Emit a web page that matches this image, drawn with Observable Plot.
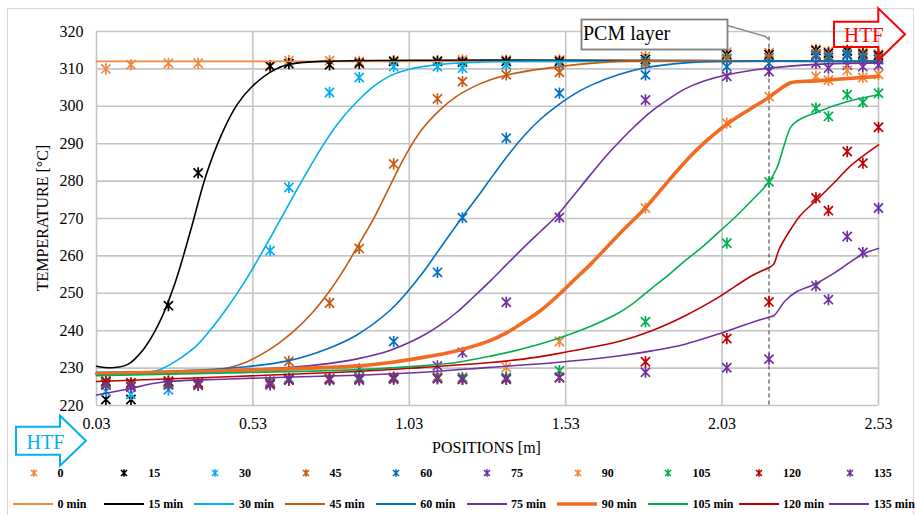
<!DOCTYPE html>
<html><head><meta charset="utf-8">
<script src="https://cdn.jsdelivr.net/npm/d3@7"></script>
<script src="https://cdn.jsdelivr.net/npm/@observablehq/plot@0.6"></script>
<style>
body{margin:0;background:#fff;font-family:"Liberation Serif","Times New Roman",serif;}
#wrap{position:relative;width:915px;height:515px;overflow:hidden;background:#fff;}
#frame{position:absolute;left:7px;top:8px;width:907px;height:520px;border:1px solid #d9d9d9;box-sizing:border-box;}
#chart{position:absolute;left:0;top:0;}
#overlay{position:absolute;left:0;top:0;}
.lg{position:absolute;font-weight:bold;font-size:12px;white-space:nowrap;line-height:14px;}
.lgs{position:absolute;}
</style></head>
<body><div id="wrap"><div id="frame"></div><div id="chart"></div><svg id="overlay" width="915" height="515"></svg><div id="legend"></div></div>
<script>
// ---------------- data ----------------
const seriesNames = ["0","15","30","45","60","75","90","105","120","135"];
const markerColors = ["#F0883E","#000000","#00B0F0","#C55A11","#0070C0","#7030A0","#F0883E","#00B050","#C00000","#7030A0"];
const lineColors   = ["#F0883E","#000000","#00B0F0","#C55A11","#0070C0","#7030A0","#F36B21","#00B050","#C00000","#7030A0"];
const lineWidths   = [1.8,1.6,1.6,1.6,1.6,1.6,3.6,1.6,1.6,1.6];
const xTicks = [0.03,0.53,1.03,1.53,2.03,2.53];
const yTicks = [220,230,240,250,260,270,280,290,300,310,320];
const pcmPosition = 2.18;

// measured positions [m]
const positions = [0.06,0.14,0.26,0.355,0.585,0.645,0.775,0.87,0.98,1.12,1.20,1.34,1.51,1.785,2.045,2.18,2.33,2.37,2.43,2.48,2.53];
// measured temperatures [°C]
const m0   = [310,311.1,311.5,311.5,310.6,312.2,312.2,312,312.2,312.2,312.4,312.4,312.4,313.3,314.5,314.3,315.3,314.6,315,314.5,314];
const m15  = [221.6,221.6,246.7,282.2,310.8,311.4,311.1,311.5,312,312,311.8,312,312,312.5,313.8,313.8,314.9,314.2,314.8,314,313.6];
const m30  = [223.8,223,224.2,225.5,261.4,278.3,303.7,307.7,310.6,310.6,310.2,311.1,311.1,312,312.8,313,313.5,313,313.5,313,312.5];
const m45  = [226,225.5,226,225.5,226,231.8,247.4,262,284.6,302,306.6,308.4,309.1,311.5,312.5,313,314,313.5,314,313.5,313];
const m60  = [226.5,226,226.5,226,226.5,227.3,227.3,229.8,237.1,255.6,270.2,291.5,303.5,308.4,310.6,311.5,313.5,313,313.8,313,312.5];
const m75  = [225.5,225,225.5,225.5,226,227,227,227.3,227.5,230.6,234.2,247.6,270.3,301.7,308,309.3,311.5,310.2,311,310.6,311];
const m90  = [226,225.5,225.5,225.3,226.2,227,227.3,227.5,227.5,227.8,227.2,230.2,237.1,272.8,295.5,302.6,308,307,309.6,307.7,308.5];
const m105 = [226,225.8,226,225.5,226,227,227,227.5,227.5,227.5,227.5,227.5,229.3,242.4,263.4,279.8,299.5,297.3,303.1,301.1,303.5];
const m120 = [226.5,226,226.5,226,225.8,226.8,227,227,227.3,227.2,227,227,227.5,231.7,237.9,247.7,275.5,272.1,287.9,284.8,294.4];
const m135 = [225.5,225,225.5,225.5,225.5,226.8,226.8,226.8,227,227.2,227,227.2,227.5,228.9,230.1,232.4,252,248.3,265.2,260.9,272.8];

// simulated profiles [position m, temperature °C]
const s0 = [[0.03,312],[2.53,312]];
const s15 = [[0.03,230.5],[0.08,230.1],[0.13,231],[0.18,235],[0.23,242],[0.28,252.5],[0.33,266.5],[0.38,281.5],[0.43,292.5],[0.48,300.5],[0.53,305.5],[0.60,309.8],[0.65,311.3],[0.75,312],[2.53,312]];
const s30 = [[0.03,228.2],[0.15,228.6],[0.23,229.5],[0.29,232.2],[0.35,236],[0.40,240.8],[0.45,246.4],[0.50,252.6],[0.55,259.6],[0.60,267],[0.65,274.6],[0.70,282],[0.75,289],[0.80,295.2],[0.86,301],[0.92,305.6],[0.97,308.2],[1.03,309.9],[1.13,311.2],[1.25,311.8],[1.4,312],[2.53,312]];
const s45 = [[0.03,228.3],[0.2,228.8],[0.43,229.7],[0.50,231.3],[0.56,233.8],[0.61,236.5],[0.66,239.8],[0.72,244.8],[0.77,250],[0.82,256.2],[0.87,263.3],[0.92,270.6],[0.97,279],[1.02,287.2],[1.07,293.8],[1.13,299.2],[1.18,302.6],[1.24,305.4],[1.29,307.1],[1.34,308.3],[1.42,309.6],[1.51,310.6],[1.60,311.4],[1.70,312],[2.53,312]];
const s60 = [[0.03,228.9],[0.3,229.3],[0.5,230.3],[0.645,232],[0.769,235.2],[0.861,238.8],[0.968,245.4],[1.02,250],[1.074,255.6],[1.128,262],[1.20,270.4],[1.25,276],[1.30,281.8],[1.35,287.4],[1.40,292.4],[1.45,296.6],[1.51,300.6],[1.56,303.4],[1.61,305.6],[1.70,308.5],[1.784,310.3],[1.912,311.6],[2.045,312],[2.53,312]];
const s75 = [[0.03,228.6],[0.4,229.3],[0.65,230.2],[0.77,231.2],[0.87,232.6],[0.97,234.8],[1.07,238.5],[1.13,241.6],[1.18,244.8],[1.23,248.6],[1.29,253.4],[1.34,257.6],[1.40,262.6],[1.45,266.6],[1.50,270.6],[1.55,275.6],[1.61,281.8],[1.66,286.8],[1.70,290.4],[1.75,294.6],[1.80,298.4],[1.86,302],[1.91,304.6],[1.97,306.7],[2.05,308.5],[2.18,310.2],[2.33,311.2],[2.53,311.6]];
const s90 = [[0.03,228.5],[0.3,229],[0.65,229.8],[0.87,230.6],[0.97,231.5],[1.07,232.8],[1.18,234.6],[1.29,237.4],[1.34,239.4],[1.39,242],[1.45,245.4],[1.50,249],[1.55,253],[1.61,257.8],[1.66,262.2],[1.71,266.6],[1.78,272.4],[1.86,280.2],[1.91,285],[1.97,290],[2.045,295.2],[2.12,299.3],[2.18,302.4],[2.21,304.3],[2.25,306.3],[2.33,306.8],[2.53,308]];
const s105 = [[0.03,228],[0.5,228.8],[0.87,229.6],[1.07,230.6],[1.18,231.5],[1.29,233.2],[1.39,235.1],[1.50,237.8],[1.61,241.2],[1.70,244.8],[1.75,247.6],[1.80,251],[1.86,255],[1.91,258.6],[1.97,262.6],[2.02,266.4],[2.07,270.2],[2.12,274.4],[2.18,279.8],[2.205,283.5],[2.23,290],[2.25,294.5],[2.28,296.6],[2.34,298.6],[2.39,300.2],[2.45,301.7],[2.53,303.1]];
const s120 = [[0.03,226.4],[0.865,229.1],[1.074,230.2],[1.287,231.5],[1.394,232.4],[1.50,233.8],[1.607,235.5],[1.703,237.2],[1.805,240],[1.912,244],[2.018,248.9],[2.125,254.7],[2.18,256.9],[2.195,257.8],[2.211,261.5],[2.232,264.8],[2.253,267.6],[2.28,270.8],[2.339,275.5],[2.392,279.9],[2.445,284.4],[2.53,289.7]];
const s135 = [[0.03,222.8],[0.13,224.4],[0.237,226.2],[0.45,227.1],[0.865,228.1],[1.074,228.9],[1.287,230.2],[1.50,231.5],[1.703,233.3],[1.805,234.6],[1.912,236.4],[2.018,239.1],[2.125,242.2],[2.18,243.6],[2.195,244],[2.232,248],[2.264,250.2],[2.328,252.5],[2.392,255.6],[2.48,260.5],[2.53,262]];

const measured = [m0,m15,m30,m45,m60,m75,m90,m105,m120,m135];
const simulated = [s0,s15,s30,s45,s60,s75,s90,s105,s120,s135];

// Excel-like star marker (X + vertical bar)
const star = {draw(ctx, size){const r=Math.sqrt(size/Math.PI);const a=r*0.82;
  ctx.moveTo(-a,-a);ctx.lineTo(a,a);ctx.moveTo(-a,a);ctx.lineTo(a,-a);ctx.moveTo(0,-r);ctx.lineTo(0,r);}};

const marks = [
  Plot.ruleX(xTicks,{stroke:"#c4c4c4",strokeWidth:1.6}),
  Plot.ruleY(yTicks,{stroke:"#c4c4c4",strokeWidth:1.6}),
  Plot.ruleX([pcmPosition],{y1:318.5,y2:220,stroke:"#505050",strokeWidth:1.2,strokeDasharray:"4,3"}),
];
measured.forEach((vals,i)=>{
  const rows = positions.map((x,j)=>({x, t: vals[j]}));
  marks.push(Plot.dot(rows,{x:"x",y:"t",symbol:star,r:5.6,fill:"none",stroke:markerColors[i],strokeWidth:1.7}));
});
simulated.forEach((pts,i)=>{
  marks.push(Plot.line(pts,{x:d=>d[0],y:d=>d[1],stroke:lineColors[i],strokeWidth:lineWidths[i],curve:"catmull-rom"}));
});
marks.push(Plot.axisX(xTicks,{tickFormat:d=>d.toFixed(2),tickSize:0,tickPadding:12,label:null,fontSize:16}));
marks.push(Plot.axisY(yTicks,{tickSize:0,tickPadding:13,label:null,fontSize:16}));

const chart = Plot.plot({
  width:915,height:455,
  marginLeft:96,marginRight:37,marginTop:31,marginBottom:50,
  x:{domain:[0.03,2.53]},
  y:{domain:[220,320]},
  style:{fontFamily:"'Liberation Serif','Times New Roman',serif",fontSize:"16px",color:"#000",background:"transparent",overflow:"visible"},
  marks
});
document.getElementById("chart").appendChild(chart);

// ---------------- annotations (axis titles, PCM box, HTF arrows) ----------------
const ov = d3.select("#overlay");
ov.append("text").attr("transform","translate(48,218) rotate(-90)").attr("text-anchor","middle")
  .attr("font-size",16).attr("font-family","'Liberation Serif',serif").text("TEMPERATURE [°C]");
ov.append("text").attr("x",486.5).attr("y",452.5).attr("text-anchor","middle")
  .attr("font-size",16).attr("font-family","'Liberation Serif',serif").text("POSITIONS [m]");
// PCM layer box + leader
ov.append("path").attr("d","M727.5,25.5 L765.5,36.5 L768,39").attr("fill","none").attr("stroke","#8c8c8c").attr("stroke-width",1.5);
ov.append("rect").attr("x",581.5).attr("y",19.5).attr("width",146).attr("height",30).attr("fill","#fff").attr("stroke","#808080").attr("stroke-width",1.8);
ov.append("text").attr("x",583).attr("y",40).attr("font-size",20).attr("font-family","'Liberation Serif',serif").text("PCM layer");
// red HTF arrow
ov.append("path").attr("d","M834,21.7 L878.3,21.7 L878.3,8.3 L905,34.3 L878.3,60.3 L878.3,47 L834,47 Z")
  .attr("fill","none").attr("stroke","#ff0000").attr("stroke-width",2);
ov.append("text").attr("x",844).attr("y",41.8).attr("font-size",21).attr("fill","#ff0000").attr("font-family","'Liberation Serif',serif").text("HTF");
// blue HTF arrow
ov.append("path").attr("d","M16,426.7 L60,426.7 L60,415.7 L86,440.7 L60,465.7 L60,454.7 L16,454.7 Z")
  .attr("fill","#fff").attr("stroke","#00B0F0").attr("stroke-width",2);
ov.append("text").attr("x",26.5).attr("y",449).attr("font-size",20).attr("fill","#00B0F0").attr("font-family","'Liberation Serif',serif").text("HTF");

// ---------------- legend ----------------
const lg = document.getElementById("legend");
const step = 90.7;
seriesNames.forEach((name,i)=>{
  const x0 = i*step;
  const ms = document.createElementNS("http://www.w3.org/2000/svg","svg");
  ms.setAttribute("class","lgs"); ms.setAttribute("width",10); ms.setAttribute("height",10);
  ms.style.left=(28.5+x0)+"px"; ms.style.top="467.5px";
  ms.innerHTML=`<path d="M2,2L8,8M2,8L8,2M5,1.2L5,8.8" stroke="${markerColors[i]}" stroke-width="1.6" fill="none"/>`;
  lg.appendChild(ms);
  const t1=document.createElement("div"); t1.className="lg"; t1.textContent=name;
  t1.style.left=(57.5+x0)+"px"; t1.style.top="466px"; lg.appendChild(t1);
  const ls = document.createElementNS("http://www.w3.org/2000/svg","svg");
  ls.setAttribute("class","lgs"); ls.setAttribute("width",42); ls.setAttribute("height",8);
  ls.style.left=(13+x0)+"px"; ls.style.top="499.5px";
  ls.innerHTML=`<line x1="0" y1="4" x2="40" y2="4" stroke="${lineColors[i]}" stroke-width="${i===6?3.4:2}"/>`;
  lg.appendChild(ls);
  const t2=document.createElement("div"); t2.className="lg"; t2.textContent=name+" min";
  t2.style.left=(57.5+x0)+"px"; t2.style.top="496.5px"; lg.appendChild(t2);
});
</script></body></html>
